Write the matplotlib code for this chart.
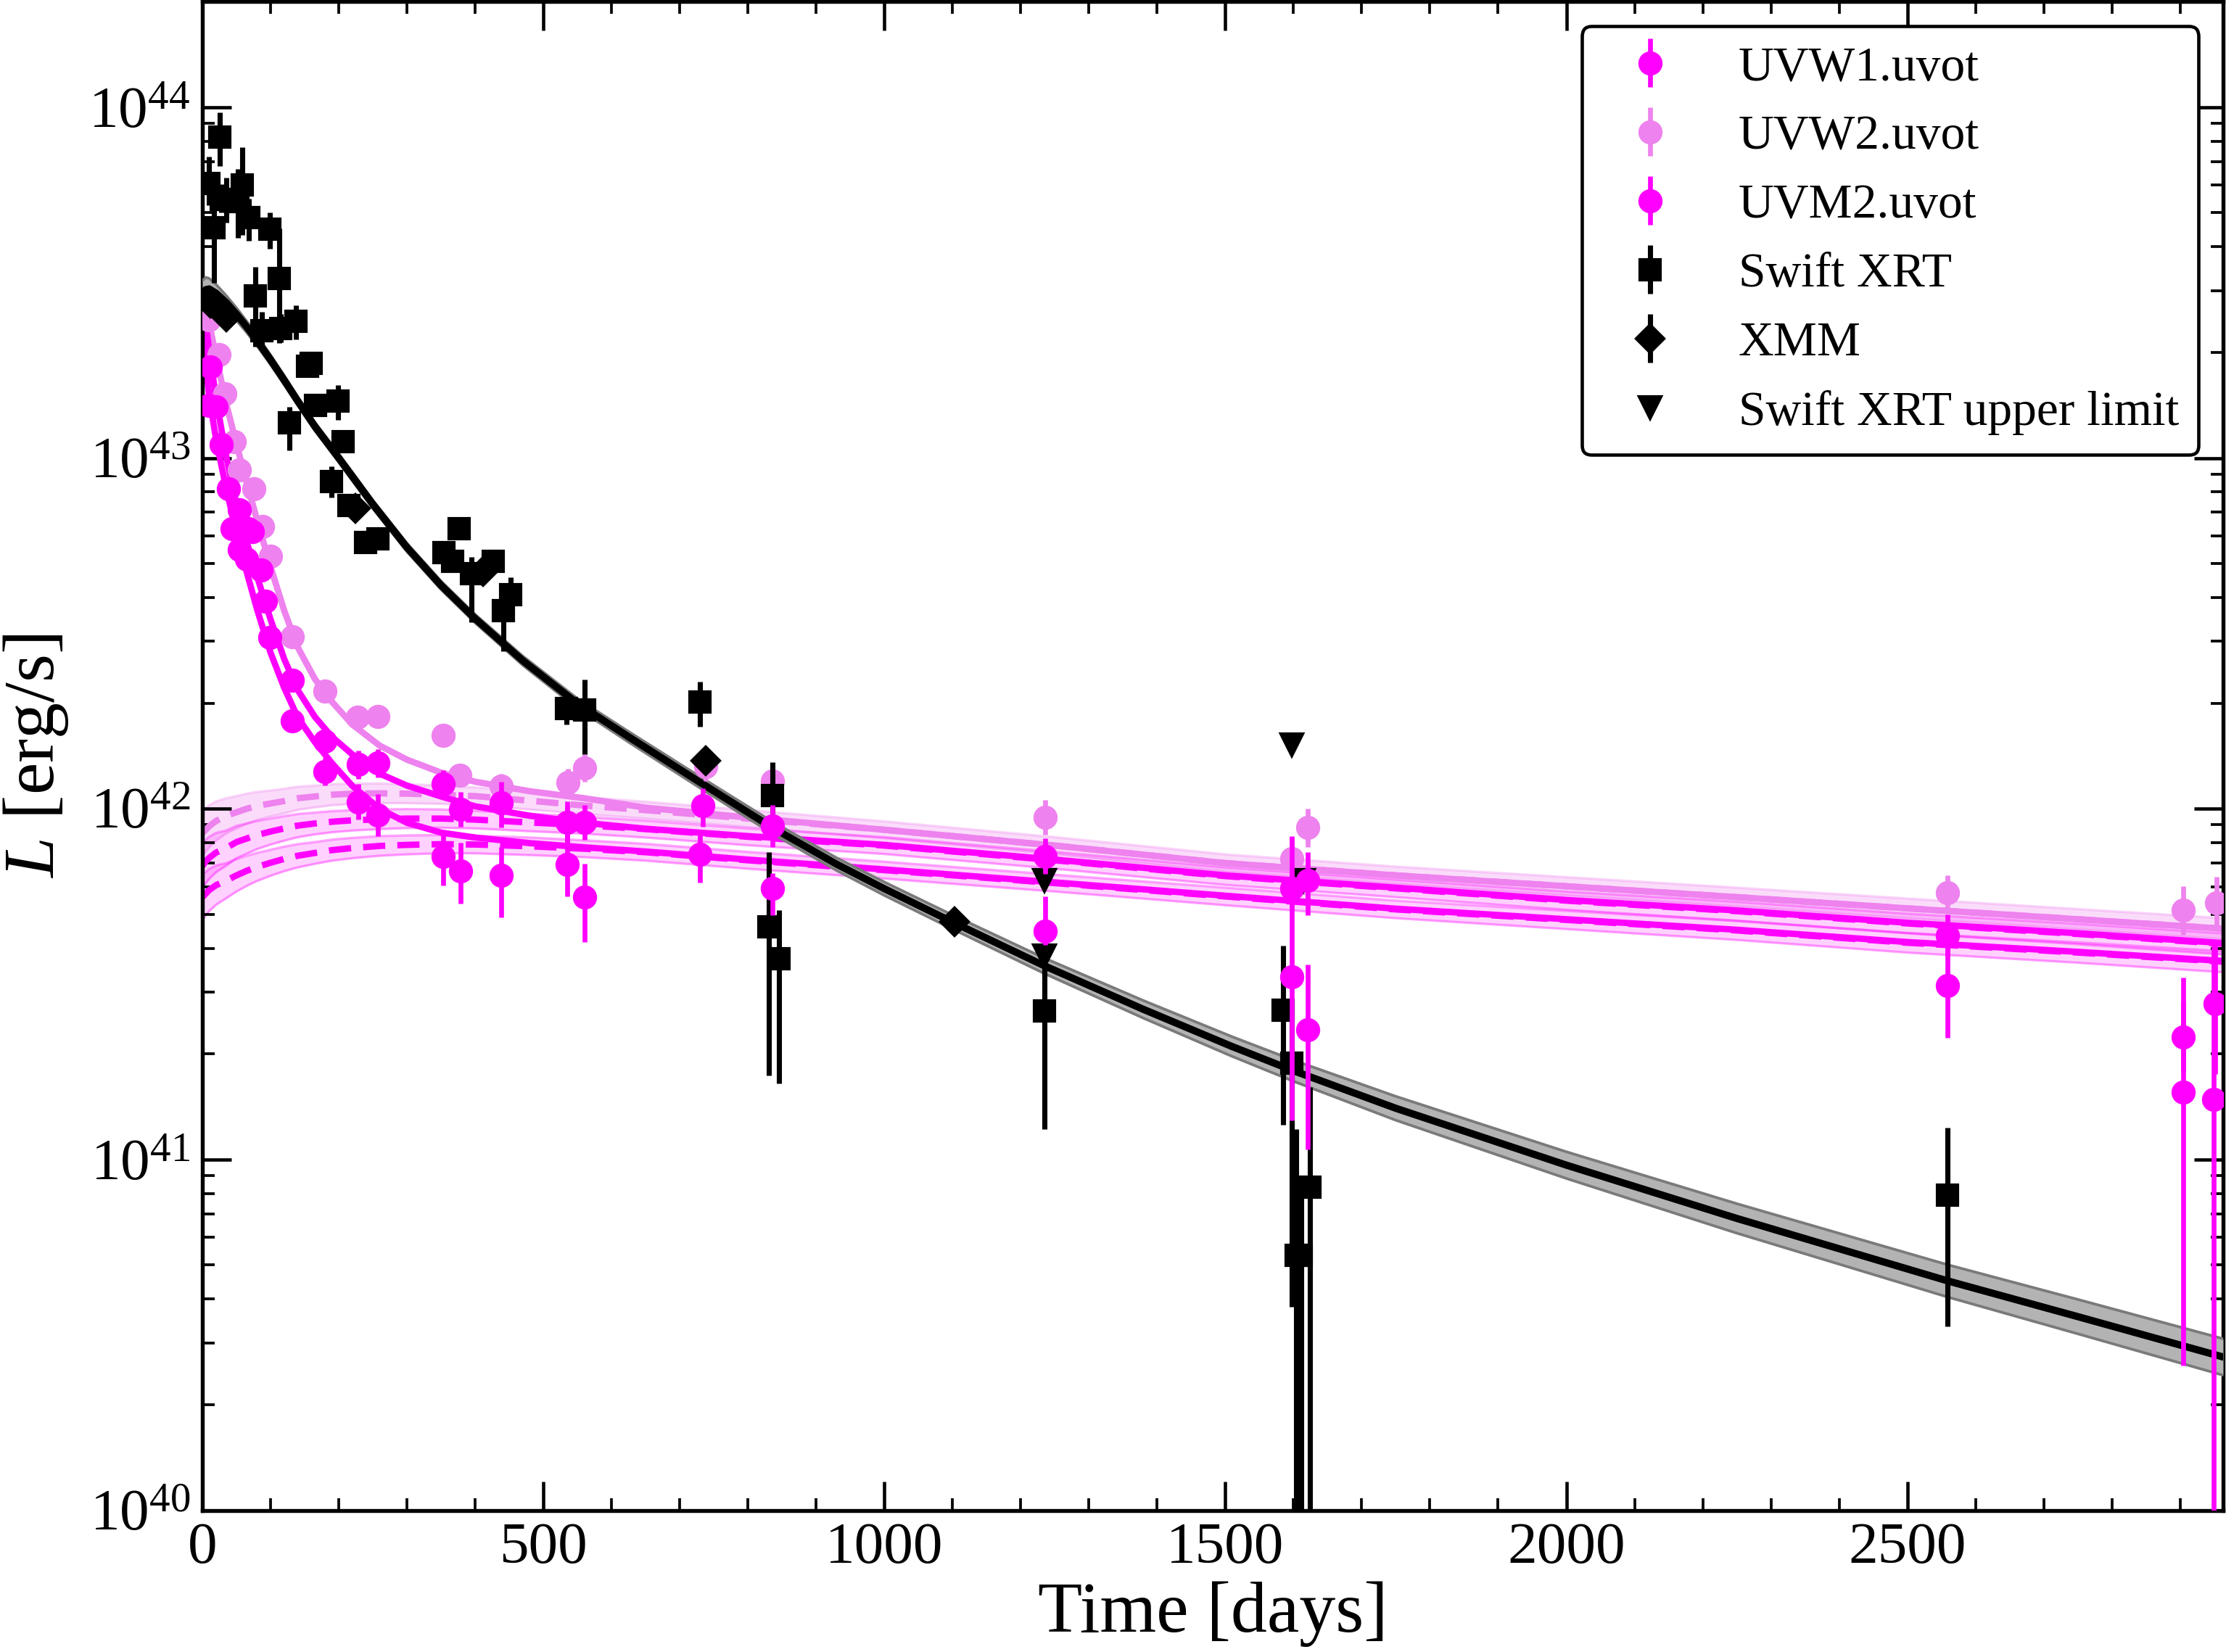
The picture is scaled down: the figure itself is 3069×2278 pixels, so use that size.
import numpy as np
import matplotlib
matplotlib.use("Agg")
import matplotlib.pyplot as plt
from matplotlib.ticker import MultipleLocator, LogLocator, NullFormatter

plt.rcParams['font.family'] = ['Liberation Serif', 'DejaVu Serif']
plt.rcParams['mathtext.fontset'] = 'custom'
plt.rcParams['mathtext.rm'] = 'Liberation Serif'
plt.rcParams['mathtext.it'] = 'Liberation Serif:italic'

MAGENTA = '#ff00ff'
VIOLET = '#ee82ee'

# ---- data, all luminosities as log10(L / erg s^-1) ----
# Swift UVOT, UVW2
w2_t = [9.9, 24.1, 33, 47.2, 54.3, 75.5, 88, 100.4, 132.3, 180, 227.9, 257, 352.8, 378,
        438.3, 536, 560.4, 737.8, 836, 1235.6, 1597, 1621, 2559, 2905, 2953]
w2_L = [43.394, 43.294, 43.183, 43.046, 42.967, 42.912, 42.805, 42.719, 42.491, 42.336, 42.261,
        42.264, 42.209, 42.095, 42.064, 42.075, 42.116, 42.12, 42.078, 41.975, 41.858, 41.946,
        41.761, 41.710, 41.732]
w2_err = [0.02, 0.02, 0.02, 0.02, 0.02, 0.02, 0.02, 0.02, 0.02, 0.025, 0.025, 0.025, 0.03, 0.03,
          0.035, 0.04, 0.04, 0.04, 0.05, 0.05, 0.06, 0.055, 0.05, 0.07, 0.075]

# Swift UVOT, UVW1
w1_t = [11.7, 27.7, 38.3, 54.3, 66.7, 73.8, 86.2, 131.5, 179.8, 228.6, 257, 352.8, 379, 438.3,
        535, 560.4, 733.6, 836, 1235.6, 1597, 1621, 2559, 2905, 2951]
w1_L = [43.259, 43.039, 42.912, 42.853, 42.798, 42.791, 42.681, 42.367, 42.192, 42.126, 42.130,
        42.071, 41.999, 42.016, 41.961, 41.961, 42.009, 41.951, 41.865, 41.772, 41.796, 41.638,
        41.350, 41.444]
w1_elo = [0.02, 0.02, 0.02, 0.02, 0.02, 0.02, 0.02, 0.03, 0.035, 0.04, 0.04, 0.04, 0.05, 0.07,
          0.06, 0.05, 0.06, 0.06, 0.05, 0.05, 0.10, 0.06, 0.10, 0.20]
w1_ehi = [0.02, 0.02, 0.02, 0.02, 0.02, 0.02, 0.02, 0.03, 0.035, 0.04, 0.04, 0.04, 0.05, 0.06,
          0.06, 0.05, 0.05, 0.06, 0.05, 0.05, 0.08, 0.06, 0.10, 0.17]

# Swift UVOT, UVM2
m2_t = [10, 20, 43.6, 54.3, 64.9, 92.6, 98.6, 131.5, 179.8, 228.6, 257, 352.8, 379, 438.3,
        535, 560.4, 729.6, 836, 1235.6, 1597, 1621, 2559, 2905, 2949]
m2_L = [43.15, 43.145, 42.798, 42.739, 42.712, 42.591, 42.488, 42.250, 42.106, 42.020, 41.982,
        41.865, 41.823, 41.81, 41.841, 41.748, 41.871, 41.772, 41.651, 41.521, 41.369, 41.496,
        41.193, 41.172]
m2_elo = [0.02, 0.02, 0.02, 0.02, 0.02, 0.02, 0.02, 0.03, 0.04, 0.05, 0.06, 0.083, 0.093, 0.12,
          0.09, 0.128, 0.082, 0.076, 0.04, 0.41, 0.34, 0.149, 0.78, 1.5]
m2_ehi = [0.02, 0.02, 0.02, 0.02, 0.02, 0.02, 0.02, 0.03, 0.04, 0.05, 0.06, 0.062, 0.08, 0.08,
          0.165, 0.096, 0.066, 0.044, 0.10, 0.40, 0.187, 0.142, 0.325, 0.45]

# Swift XRT detections: value, upper end, lower end of the error bar
xrt_t = [9.9, 17, 25.9, 27.7, 34.8, 52.5, 58.5, 67.7, 78, 86.9, 98.6, 112.8, 114.5, 127.7,
         137.6, 154, 160, 166, 189, 198.6, 206, 214.6, 239.7, 257, 354, 367, 377, 394.7, 427,
         441.5, 452, 534, 560, 729.8, 831, 836, 846, 1235, 1585, 1597.5, 1604, 1611, 1624, 2559]
xrt_L = [43.783, 43.657, 43.916, 43.738, 43.738, 43.731, 43.779, 43.686, 43.462, 43.363, 43.652,
         43.512, 43.37, 43.10, 43.389, 43.261, 43.27, 43.151, 42.933, 43.163, 43.047, 42.865,
         42.759, 42.770, 42.730, 42.705, 42.798, 42.670, 42.705, 42.564, 42.61, 42.285, 42.282,
         42.304, 41.663, 42.037, 41.572, 41.423, 41.425, 41.274, 40.727, 40.727, 40.922, 40.898]
xrt_hi = [43.86, 43.738, 43.985, 43.78, 43.80, 43.824, 43.887, 43.74, 43.544, 43.416, 43.70,
          43.654, 43.41, 43.146, 43.435, 43.29, 43.30, 43.18, 42.976, 43.208, 43.075, 42.89,
          42.79, 42.80, 42.76, 42.735, 42.83, 42.718, 42.73, 42.626, 42.66, 42.32, 42.368, 42.362,
          41.877, 42.133, 41.71, 41.56, 41.61, 41.40, 41.086, 40.95, 41.206, 41.090]
xrt_lo = [43.72, 43.50, 43.833, 43.70, 43.67, 43.627, 43.635, 43.62, 43.318, 43.315, 43.597,
          43.328, 43.33, 43.022, 43.339, 43.23, 43.24, 43.12, 42.888, 43.108, 43.02, 42.84,
          42.73, 42.74, 42.70, 42.675, 42.77, 42.532, 42.68, 42.45, 42.56, 42.24, 42.156, 42.235,
          41.239, 41.95, 41.217, 41.086, 41.10, 40.58, 39.0, 39.0, 39.0, 40.524]

# XMM-Newton
xmm_t = [11.7, 34.8, 224.6, 412, 738, 1103]
xmm_L = [43.442, 43.402, 42.856, 42.677, 42.137, 41.678]
xmm_err = [0.01, 0.01, 0.01, 0.01, 0.01, 0.01]

# Swift XRT upper limits
ul_t = [1235, 1235, 1597, 1614]
ul_L = [41.796, 41.58, 42.183, 41.796]

# X-ray model curve and its uncertainty half-width (dex)
xmod_t = [0, 5, 10, 20, 35, 50, 65, 80, 100, 120, 140, 165, 200, 250, 300, 350, 400, 470, 550,
          625, 730, 835, 930, 1000, 1100, 1235, 1380, 1510, 1600, 1750, 2000, 2250, 2559, 2750,
          2963]
xmod_L = [43.465, 43.480, 43.482, 43.470, 43.443, 43.410, 43.374, 43.335, 43.280, 43.222, 43.162,
          43.090, 43.000, 42.868, 42.745, 42.637, 42.542, 42.422, 42.300, 42.205, 42.075, 41.947,
          41.842, 41.772, 41.677, 41.552, 41.428, 41.322, 41.253, 41.146, 40.984, 40.832, 40.654,
          40.552, 40.437]
xmod_hw = [0.04, 0.035, 0.03, 0.025, 0.02, 0.018, 0.016, 0.015, 0.014, 0.013, 0.012, 0.012,
           0.012, 0.012, 0.012, 0.012, 0.012, 0.013, 0.014, 0.015, 0.016, 0.017, 0.018, 0.019,
           0.02, 0.022, 0.025, 0.028, 0.03, 0.034, 0.038, 0.042, 0.046, 0.049, 0.052]

# UV models: total (solid) and plateau (dashed) for each band
uvmod_t = [0, 5, 10, 20, 35, 50, 65, 80, 100, 120, 140, 165, 190, 220, 260, 300, 350, 400, 480,
           560, 650, 800, 1000, 1250, 1500, 1750, 2000, 2250, 2500, 2750, 2963]
w2_tot = [43.47, 43.43, 43.385, 43.29, 43.155, 43.04, 42.93, 42.825, 42.69, 42.565, 42.46, 42.37,
          42.305, 42.24, 42.18, 42.14, 42.103, 42.077, 42.05, 42.03, 42.003, 41.975, 41.94,
          41.895, 41.845, 41.81, 41.779, 41.748, 41.716, 41.685, 41.658]
w1_tot = [43.44, 43.38, 43.31, 43.17, 43.005, 42.868, 42.76, 42.664, 42.54, 42.427, 42.338,
          42.262, 42.205, 42.155, 42.10, 42.066, 42.035, 42.007, 41.98, 41.96, 41.943, 41.922,
          41.897, 41.855, 41.81, 41.775, 41.74, 41.71, 41.675, 41.645, 41.617]
m2_tot = [43.38, 43.265, 43.175, 43.055, 42.912, 42.79, 42.675, 42.57, 42.445, 42.345, 42.26,
          42.19, 42.13, 42.065, 42.0, 41.96, 41.932, 41.918, 41.902, 41.89, 41.878, 41.855,
          41.827, 41.79, 41.752, 41.715, 41.685, 41.655, 41.62, 41.592, 41.566]
w2_plat = [41.93, 41.94, 41.95, 41.965, 41.98, 41.99, 42.0, 42.008, 42.015, 42.022, 42.03,
           42.035, 42.04, 42.043, 42.044, 42.043, 42.04, 42.036, 42.023, 42.009, 41.996, 41.972,
           41.94, 41.895, 41.845, 41.81, 41.779, 41.748, 41.716, 41.685, 41.658]
w1_plat = [41.837, 41.85, 41.86, 41.875, 41.888, 41.905, 41.915, 41.925, 41.935, 41.944, 41.952,
           41.958, 41.963, 41.967, 41.97, 41.972, 41.972, 41.969, 41.961, 41.953, 41.942, 41.92,
           41.895, 41.853, 41.808, 41.773, 41.738, 41.708, 41.673, 41.643, 41.615]
m2_plat = [41.748, 41.758, 41.768, 41.782, 41.795, 41.81, 41.823, 41.834, 41.846, 41.857, 41.866,
           41.874, 41.882, 41.888, 41.894, 41.897, 41.899, 41.898, 41.893, 41.886, 41.876, 41.853,
           41.825, 41.788, 41.75, 41.713, 41.683, 41.653, 41.618, 41.59, 41.564]
uv_hw = [0.065, 0.062, 0.06, 0.056, 0.05, 0.046, 0.043, 0.04, 0.037, 0.035, 0.033, 0.031, 0.03,
         0.029, 0.028, 0.027, 0.026, 0.025, 0.025, 0.024, 0.024, 0.024, 0.024, 0.024, 0.025,
         0.025, 0.026, 0.027, 0.028, 0.029, 0.03]


def lin(v):
    return 10.0 ** np.asarray(v, dtype=float)


def asym_err(val, lo, hi):
    # lo / hi given in dex below / above the value
    y = lin(val)
    return [y - lin(np.asarray(val) - np.asarray(lo)), lin(np.asarray(val) + np.asarray(hi)) - y]


def bound_err(val, top, bottom):
    y = lin(val)
    return [y - lin(bottom), lin(top) - y]


fig = plt.figure(figsize=(3069 / 300, 2278 / 300), dpi=300)
ax = fig.add_axes([0.0909, 0.0858, 0.9078, 0.9132])

# plateau bands (dashed components)
for plat, col, a in [(w2_plat, VIOLET, 0.28), (w1_plat, MAGENTA, 0.18), (m2_plat, MAGENTA, 0.18)]:
    lo = lin(np.asarray(plat) - np.asarray(uv_hw))
    hi = lin(np.asarray(plat) + np.asarray(uv_hw))
    ax.fill_between(uvmod_t, lo, hi, color=col, alpha=a, lw=0, zorder=1)
    ax.plot(uvmod_t, lo, color=col, alpha=0.35, lw=0.8, zorder=1)
    ax.plot(uvmod_t, hi, color=col, alpha=0.35, lw=0.8, zorder=1)

# UV model lines
dash = (0, (3.5, 1.9))
ax.plot(uvmod_t, lin(w2_plat), color=VIOLET, lw=2.1, ls=dash, zorder=2)
ax.plot(uvmod_t, lin(w1_plat), color=MAGENTA, lw=2.1, ls=dash, zorder=2)
ax.plot(uvmod_t, lin(m2_plat), color=MAGENTA, lw=2.1, ls=dash, zorder=2)
ax.plot(uvmod_t, lin(w2_tot), color=VIOLET, lw=2.1, zorder=2)
ax.plot(uvmod_t, lin(w1_tot), color=MAGENTA, lw=2.1, zorder=2)
ax.plot(uvmod_t, lin(m2_tot), color=MAGENTA, lw=2.1, zorder=2)

# X-ray model with band
xlo = lin(np.asarray(xmod_L) - np.asarray(xmod_hw))
xhi = lin(np.asarray(xmod_L) + np.asarray(xmod_hw))
ax.fill_between(xmod_t, xlo, xhi, color='#b3b3b3', lw=0, zorder=3)
ax.plot(xmod_t, xlo, color='#7a7a7a', lw=0.9, zorder=3)
ax.plot(xmod_t, xhi, color='#7a7a7a', lw=0.9, zorder=3)
ax.plot(xmod_t, lin(xmod_L), color='black', lw=2.4, zorder=4)

# data points
h_w2 = ax.errorbar(w2_t, lin(w2_L), yerr=asym_err(w2_L, w2_err, w2_err), fmt='o', color=VIOLET,
                   ms=7, elinewidth=1.6, capsize=0, zorder=5, label='UVW2.uvot')
h_xrt = ax.errorbar(xrt_t, lin(xrt_L), yerr=bound_err(xrt_L, xrt_hi, xrt_lo), fmt='s',
                    color='black', ms=6.5, elinewidth=1.7, capsize=0, zorder=6, label='Swift XRT')
h_xmm = ax.errorbar(xmm_t, lin(xmm_L), yerr=asym_err(xmm_L, xmm_err, xmm_err), fmt='D',
                    color='black', ms=6.5, elinewidth=1.7, capsize=0, zorder=6, label='XMM')
h_ul, = ax.plot(ul_t, lin(ul_L), 'v', color='black', ms=7, ls='none', zorder=6,
                label='Swift XRT upper limit')
h_w1 = ax.errorbar(w1_t, lin(w1_L), yerr=asym_err(w1_L, w1_elo, w1_ehi), fmt='o', color=MAGENTA,
                   ms=7, elinewidth=1.6, capsize=0, zorder=7, label='UVW1.uvot')
h_m2 = ax.errorbar(m2_t, lin(m2_L), yerr=asym_err(m2_L, m2_elo, m2_ehi), fmt='o', color=MAGENTA,
                   ms=7, elinewidth=1.6, capsize=0, zorder=7, label='UVM2.uvot')

ax.set_yscale('log')
ax.set_xlim(0, 2963)
ax.set_ylim(1e40, 2e44)
ax.xaxis.set_major_locator(MultipleLocator(500))
ax.xaxis.set_minor_locator(MultipleLocator(100))
ax.yaxis.set_minor_locator(LogLocator(base=10, subs=np.arange(2, 10)))
ax.yaxis.set_minor_formatter(NullFormatter())

ax.tick_params(which='both', direction='in', top=True, right=True, labelsize=19.5)
ax.tick_params(which='major', length=9.5, width=1.1, pad=4)
ax.tick_params(which='minor', length=4, width=0.9)
for s in ax.spines.values():
    s.set_linewidth(1.3)

ax.set_xlabel('Time [days]', fontsize=24, labelpad=2)
ax.set_ylabel('$L$ [erg/s]', fontsize=24, labelpad=6)

leg = ax.legend([h_w1, h_w2, h_m2, h_xrt, h_xmm, h_ul],
                ['UVW1.uvot', 'UVW2.uvot', 'UVM2.uvot', 'Swift XRT', 'XMM', 'Swift XRT upper limit'],
                loc='upper right', fontsize=16.2, frameon=True, fancybox=True, framealpha=1,
                edgecolor='black', labelspacing=0.5, borderaxespad=0.5)
leg.get_frame().set_linewidth(1.1)

fig.savefig('out.png', dpi=300)
